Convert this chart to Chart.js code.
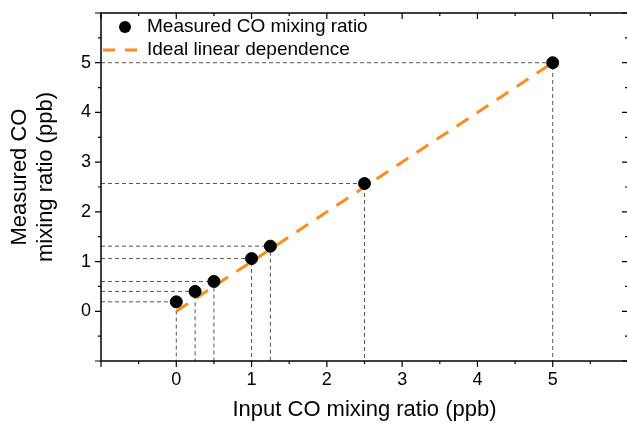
<!DOCTYPE html>
<html>
<head>
<meta charset="utf-8">
<script src="https://cdn.jsdelivr.net/npm/chart.js@4.4.1/dist/chart.umd.min.js"></script>
<style>
html, body { margin: 0; padding: 0; overflow: hidden; background: #fff; }
#wrap { width: 627px; height: 423px; overflow: hidden; }
canvas { display: block; }
</style>
</head>
<body>
<div id="wrap"><canvas id="chart" width="640" height="423"></canvas></div>
<script>
// values
const inputCO = [0, 0.25, 0.5, 1, 1.25, 2.5, 5];
const measuredCO = [0.19, 0.40, 0.60, 1.06, 1.31, 2.57, 5.0];
const idealX = [0, 5];
const idealY = [0, 5];
const tickLabels = [0, 1, 2, 3, 4, 5];
const axisMin = -1;
const axisMax = 6;
const yTitle = ['Measured CO', 'mixing ratio (ppb)'];

const FONT = 'Arial, "Liberation Sans", sans-serif';
const ORANGE = '#ff8c1a';

// L-shaped dashed guides: left axis -> point -> bottom axis
var guides = [];
inputCO.forEach(function (x, i) {
    guides.push({ x: axisMin, y: measuredCO[i] });
    guides.push({ x: x, y: measuredCO[i] });
    guides.push({ x: x, y: axisMin });
    guides.push({ x: x, y: null });
});

function tickCallback(value) {
    return tickLabels.indexOf(value) >= 0 ? String(value) : '';
}

// box round the plot, ticks out on left/bottom and in on top/right, legend, y title
const frame = {
    id: 'frame',
    afterDraw: function (chart) {
        const ctx = chart.ctx;
        const a = chart.chartArea;
        const xs = chart.scales.x;
        const ys = chart.scales.y;
        ctx.save();
        ctx.strokeStyle = '#000';
        ctx.lineWidth = 1.5;
        ctx.strokeRect(a.left, a.top, a.right - a.left, a.bottom - a.top);
        ctx.lineWidth = 1.2;
        ctx.beginPath();
        xs.ticks.forEach(function (t) {
            const px = xs.getPixelForValue(t.value);
            const len = Number.isInteger(t.value) ? 6 : 3;
            ctx.moveTo(px, a.bottom); ctx.lineTo(px, a.bottom + len);
            ctx.moveTo(px, a.top); ctx.lineTo(px, a.top + len);
        });
        ys.ticks.forEach(function (t) {
            const py = ys.getPixelForValue(t.value);
            const len = Number.isInteger(t.value) ? 6 : 3;
            ctx.moveTo(a.left, py); ctx.lineTo(a.left - len, py);
            ctx.moveTo(a.right, py); ctx.lineTo(a.right - len, py);
        });
        ctx.stroke();

        // legend
        ctx.font = '19px ' + FONT;
        ctx.textBaseline = 'middle';
        ctx.fillStyle = '#000';
        ctx.beginPath();
        ctx.arc(a.left + 24, a.top + 14, 6, 0, Math.PI * 2);
        ctx.fill();
        ctx.fillText(chart.data.datasets[0].label, a.left + 46, a.top + 14);

        ctx.strokeStyle = ORANGE;
        ctx.lineWidth = 3;
        ctx.setLineDash([12, 10]);
        ctx.beginPath();
        ctx.moveTo(a.left + 2, a.top + 37);
        ctx.lineTo(a.left + 37, a.top + 37);
        ctx.stroke();
        ctx.setLineDash([]);
        ctx.fillText(chart.data.datasets[1].label, a.left + 46, a.top + 37);

        // y axis title, two lines, sits a little above the middle
        ctx.font = '22px ' + FONT;
        ctx.textAlign = 'center';
        ctx.translate(20, (a.top + a.bottom) / 2 - 10);
        ctx.rotate(-Math.PI / 2);
        yTitle.forEach(function (line, i) {
            ctx.fillText(line, 0, i * 25.5);
        });
        ctx.restore();
    }
};

Chart.defaults.font.family = FONT;
Chart.defaults.color = '#000';

new Chart(document.getElementById('chart'), {
    type: 'line',
    data: {
        datasets: [
            {
                label: 'Measured CO mixing ratio',
                data: inputCO.map(function (x, i) { return { x: x, y: measuredCO[i] }; }),
                showLine: false,
                pointRadius: 6,
                pointBackgroundColor: '#000',
                pointBorderColor: '#000',
                order: 0
            },
            {
                label: 'Ideal linear dependence',
                data: idealX.map(function (x, i) { return { x: x, y: idealY[i] }; }),
                borderColor: ORANGE,
                borderWidth: 3,
                borderDash: [14, 10],
                pointRadius: 0,
                order: 1
            },
            {
                label: 'guides',
                data: guides,
                borderColor: '#555',
                borderWidth: 1,
                borderDash: [4, 3],
                pointRadius: 0,
                spanGaps: false,
                order: 2
            }
        ]
    },
    plugins: [frame],
    options: {
        responsive: false,
        animation: false,
        layout: {
            padding: { top: 13, right: 12, left: 0, bottom: 0 }
        },
        scales: {
            x: {
                type: 'linear',
                min: axisMin,
                max: axisMax,
                grid: { display: false, drawTicks: false },
                border: { display: false },
                ticks: {
                    stepSize: 0.5,
                    autoSkip: false,
                    maxRotation: 0,
                    padding: 8,
                    font: { size: 18 },
                    callback: tickCallback
                },
                title: {
                    display: true,
                    text: 'Input CO mixing ratio (ppb)',
                    font: { size: 22 },
                    padding: { top: 0, bottom: 0 }
                },
                afterFit: function (scale) {
                    scale.height = 62;
                    scale.paddingLeft = 0;
                    scale.paddingRight = 0;
                }
            },
            y: {
                type: 'linear',
                min: axisMin,
                max: axisMax,
                grid: { display: false, drawTicks: false },
                border: { display: false },
                ticks: {
                    stepSize: 0.5,
                    autoSkip: false,
                    padding: 10,
                    font: { size: 18 },
                    callback: tickCallback
                },
                afterFit: function (scale) {
                    scale.width = 101;
                    scale.paddingTop = 0;
                    scale.paddingBottom = 0;
                }
            }
        },
        plugins: {
            legend: { display: false },
            tooltip: { enabled: false }
        }
    }
});
</script>
</body>
</html>
